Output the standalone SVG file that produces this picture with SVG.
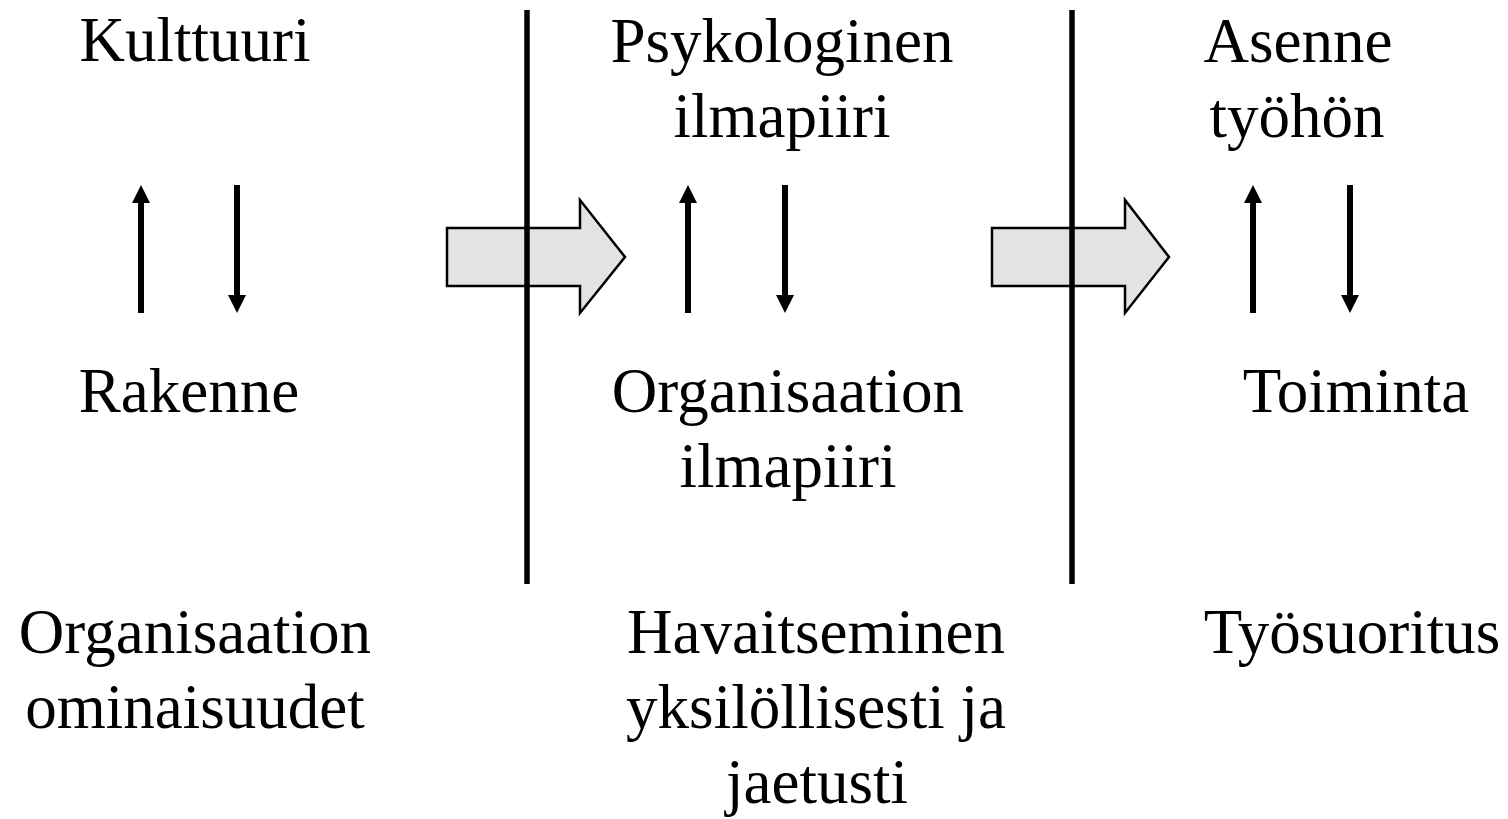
<svg xmlns="http://www.w3.org/2000/svg" width="1508" height="819" viewBox="0 0 1508 819">
<style>
text{font-family:"Liberation Serif","Times New Roman",serif;font-size:63px;fill:#000}
.c{text-anchor:middle}
.arr{stroke:#000;stroke-width:6;fill:none}
.head{fill:#000}
.blk{fill:#e3e3e3;stroke:#000;stroke-width:2.5;stroke-linejoin:miter}
.div{stroke:#000;stroke-width:5.5}
</style>
<g id="connectors">
<path class="blk" d="M447,228 H580 V200 L625,257 L580,313 V286 H447 Z"/>
<path class="blk" d="M992,228 H1125 V200 L1169,257 L1125,313 V286 H992 Z"/>
<line class="div" x1="527" y1="10" x2="527" y2="584"/>
<line class="div" x1="1072" y1="10" x2="1072" y2="584"/>
<g id="arrow-up-1"><line class="arr" x1="141" y1="313" x2="141" y2="200"/><path class="head" d="M132,203 L141,185 L150,203 Z"/></g>
<g id="arrow-down-1"><line class="arr" x1="237" y1="185" x2="237" y2="297"/><path class="head" d="M228,295 L237,313 L246,295 Z"/></g>
<g id="arrow-up-2"><line class="arr" x1="688" y1="313" x2="688" y2="200"/><path class="head" d="M679,203 L688,185 L697,203 Z"/></g>
<g id="arrow-down-2"><line class="arr" x1="785" y1="185" x2="785" y2="297"/><path class="head" d="M776,295 L785,313 L794,295 Z"/></g>
<g id="arrow-up-3"><line class="arr" x1="1253" y1="313" x2="1253" y2="200"/><path class="head" d="M1244,203 L1253,185 L1262,203 Z"/></g>
<g id="arrow-down-3"><line class="arr" x1="1350" y1="185" x2="1350" y2="297"/><path class="head" d="M1341,295 L1350,313 L1359,295 Z"/></g>
</g>
<g id="kulttuuri"><text x="195" y="61" class="c">Kulttuuri</text></g>
<g id="rakenne"><text x="189" y="412" class="c">Rakenne</text></g>
<g id="org-ominaisuudet"><text x="195" y="653" class="c">Organisaation</text><text x="195" y="728" class="c">ominaisuudet</text></g>
<g id="psyk-ilmapiiri"><text x="782" y="62" class="c">Psykologinen</text><text x="782" y="137" class="c">ilmapiiri</text></g>
<g id="org-ilmapiiri"><text x="788" y="412" class="c">Organisaation</text><text x="788" y="487" class="c">ilmapiiri</text></g>
<g id="havaitseminen"><text x="816" y="653" class="c">Havaitseminen</text><text x="816" y="728" class="c">yksilöllisesti ja</text><text x="817" y="803" class="c">jaetusti</text></g>
<g id="asenne"><text x="1298" y="62" class="c">Asenne</text><text x="1297" y="137" class="c">työhön</text></g>
<g id="toiminta"><text x="1356" y="412" class="c">Toiminta</text></g>
<g id="tyosuoritus"><text x="1352" y="653" class="c">Työsuoritus</text></g>
</svg>
